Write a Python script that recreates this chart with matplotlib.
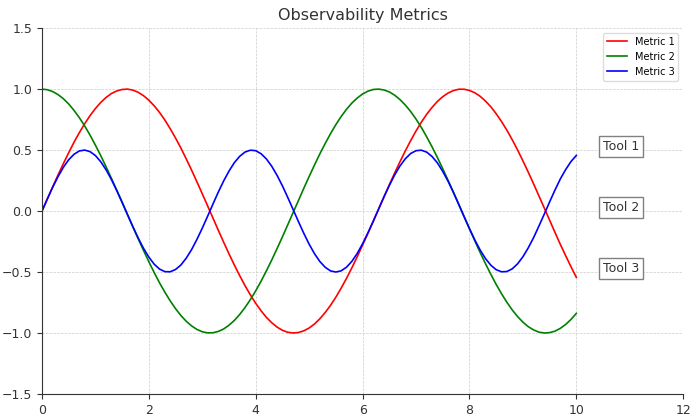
import matplotlib
matplotlib.use("Agg")
import matplotlib.pyplot as plt

x = [0.0, 0.1, 0.2, 0.3, 0.4, 0.5, 0.6, 0.7, 0.8, 0.9,
     1.0, 1.1, 1.2, 1.3, 1.4, 1.5, 1.6, 1.7, 1.8, 1.9,
     2.0, 2.1, 2.2, 2.3, 2.4, 2.5, 2.6, 2.7, 2.8, 2.9,
     3.0, 3.1, 3.2, 3.3, 3.4, 3.5, 3.6, 3.7, 3.8, 3.9,
     4.0, 4.1, 4.2, 4.3, 4.4, 4.5, 4.6, 4.7, 4.8, 4.9,
     5.0, 5.1, 5.2, 5.3, 5.4, 5.5, 5.6, 5.7, 5.8, 5.9,
     6.0, 6.1, 6.2, 6.3, 6.4, 6.5, 6.6, 6.7, 6.8, 6.9,
     7.0, 7.1, 7.2, 7.3, 7.4, 7.5, 7.6, 7.7, 7.8, 7.9,
     8.0, 8.1, 8.2, 8.3, 8.4, 8.5, 8.6, 8.7, 8.8, 8.9,
     9.0, 9.1, 9.2, 9.3, 9.4, 9.5, 9.6, 9.7, 9.8, 9.9,
     10.0]

metric1 = [0.000, 0.100, 0.199, 0.296, 0.389, 0.479, 0.565, 0.644, 0.717, 0.783,
           0.841, 0.891, 0.932, 0.964, 0.985, 0.997, 1.000, 0.992, 0.974, 0.946,
           0.909, 0.863, 0.808, 0.746, 0.675, 0.598, 0.516, 0.427, 0.335, 0.239,
           0.141, 0.042, -0.058, -0.158, -0.256, -0.351, -0.443, -0.530, -0.612, -0.688,
           -0.757, -0.818, -0.872, -0.916, -0.952, -0.978, -0.994, -1.000, -0.996, -0.982,
           -0.959, -0.926, -0.883, -0.832, -0.773, -0.706, -0.631, -0.551, -0.465, -0.374,
           -0.279, -0.182, -0.083, 0.017, 0.117, 0.215, 0.312, 0.405, 0.494, 0.578,
           0.657, 0.729, 0.794, 0.850, 0.899, 0.938, 0.968, 0.988, 0.999, 0.999,
           0.989, 0.970, 0.941, 0.902, 0.855, 0.798, 0.734, 0.663, 0.585, 0.501,
           0.412, 0.319, 0.223, 0.124, 0.025, -0.075, -0.175, -0.273, -0.366, -0.457,
           -0.544]

metric2 = [1.000, 0.995, 0.980, 0.955, 0.921, 0.878, 0.825, 0.765, 0.697, 0.622,
           0.540, 0.454, 0.362, 0.267, 0.170, 0.071, -0.029, -0.129, -0.227, -0.323,
           -0.416, -0.505, -0.589, -0.666, -0.737, -0.801, -0.857, -0.904, -0.942, -0.971,
           -0.990, -0.999, -0.998, -0.987, -0.967, -0.936, -0.897, -0.848, -0.791, -0.726,
           -0.654, -0.575, -0.490, -0.401, -0.307, -0.211, -0.112, -0.012, 0.087, 0.187,
           0.284, 0.378, 0.469, 0.554, 0.635, 0.709, 0.776, 0.835, 0.886, 0.927,
           0.960, 0.983, 0.997, 1.000, 0.993, 0.977, 0.950, 0.914, 0.869, 0.816,
           0.754, 0.685, 0.608, 0.526, 0.439, 0.347, 0.252, 0.154, 0.054, -0.046,
           -0.146, -0.244, -0.340, -0.432, -0.519, -0.602, -0.678, -0.748, -0.811, -0.865,
           -0.911, -0.948, -0.975, -0.993, -1.000, -0.997, -0.985, -0.962, -0.930, -0.889,
           -0.839]

metric3 = [0.000, 0.099, 0.195, 0.282, 0.359, 0.421, 0.466, 0.493, 0.500, 0.487,
           0.455, 0.404, 0.338, 0.258, 0.167, 0.071, -0.029, -0.128, -0.221, -0.306,
           -0.378, -0.436, -0.476, -0.497, -0.498, -0.479, -0.442, -0.386, -0.316, -0.232,
           -0.140, -0.042, 0.058, 0.156, 0.247, 0.328, 0.397, 0.449, 0.484, 0.499,
           0.495, 0.470, 0.427, 0.367, 0.292, 0.206, 0.111, 0.012, -0.087, -0.183,
           -0.272, -0.350, -0.414, -0.461, -0.491, -0.500, -0.490, -0.460, -0.412, -0.347,
           -0.268, -0.179, -0.083, 0.017, 0.116, 0.210, 0.296, 0.370, 0.429, 0.472,
           0.495, 0.499, 0.483, 0.447, 0.395, 0.325, 0.244, 0.152, 0.054, -0.046,
           -0.144, -0.237, -0.320, -0.390, -0.444, -0.481, -0.498, -0.496, -0.474, -0.433,
           -0.375, -0.302, -0.218, -0.123, -0.025, 0.075, 0.172, 0.263, 0.340, 0.406,
           0.456]

series_labels = ["Metric 1", "Metric 2", "Metric 3"]
series_colors = ["red", "green", "blue"]
tool_labels = ["Tool 1", "Tool 2", "Tool 3"]
tool_y = [0.5, 0.0, -0.5]

fig = plt.figure(figsize=(7, 4.2), dpi=100)
ax = fig.add_axes([0.06, 0.062, 0.916, 0.871])

for vals, lab, col in zip([metric1, metric2, metric3], series_labels, series_colors):
    ax.plot(x, vals, color=col, label=lab, linewidth=1.2)

for lab, yv in zip(tool_labels, tool_y):
    ax.text(10.5, yv, lab, fontsize=9, color="#333333",
            bbox=dict(facecolor="white", edgecolor="gray", boxstyle="square,pad=0.3"))

ax.set_xlim(0, 12)
ax.set_ylim(-1.5, 1.5)
ax.set_xticks([0, 2, 4, 6, 8, 10, 12])
ax.set_yticks([-1.5, -1.0, -0.5, 0.0, 0.5, 1.0, 1.5])
ax.grid(True, linestyle="--", linewidth=0.5, color="#cccccc")
ax.set_axisbelow(True)
for s in ["top", "right"]:
    ax.spines[s].set_visible(False)
for s in ["left", "bottom"]:
    ax.spines[s].set_color("#333333")
ax.tick_params(colors="#333333", labelsize=9)
ax.set_title("Observability Metrics", fontsize=11.5, color="#333333")
ax.legend(loc="upper right", fontsize=7, framealpha=1, edgecolor="#dddddd")

fig.savefig("out.png", dpi=100)
